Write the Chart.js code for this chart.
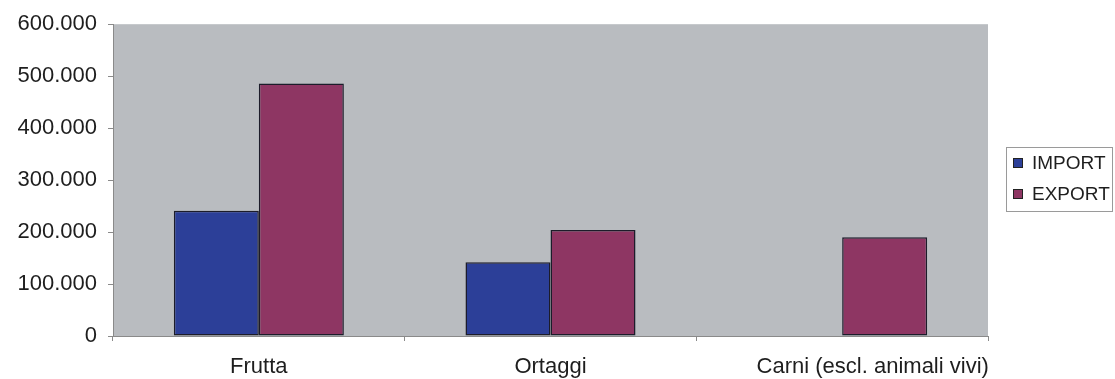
<!DOCTYPE html>
<html>
<head>
<meta charset="utf-8">
<script src="https://cdn.jsdelivr.net/npm/chart.js@4.4.1/dist/chart.umd.min.js"></script>
<style>
  html, body { margin: 0; padding: 0; background: #fff; }
  #wrap { width: 1115px; height: 379px; position: relative; }
</style>
</head>
<body>
<div id="wrap"><canvas id="trade"></canvas></div>
<script>
// categorie e valori (tonnellate)
const categorie = ['Frutta', 'Ortaggi', 'Carni (escl. animali vivi)'];
const importVal = [241000, 142000, null];
const exportVal = [486000, 204000, 190000];
const serie = ['IMPORT', 'EXPORT'];
const colori = ['#2c3f98', '#8e3663'];

const FONT = 'Liberation Sans, Arial, sans-serif';

function fmt(v) {
  return Number(v).toLocaleString('it-IT');
}

// sfondo grigio dell'area del grafico
const plotBg = {
  id: 'plotBg',
  beforeDraw(chart) {
    const { ctx, chartArea: a } = chart;
    ctx.save();
    ctx.fillStyle = '#b9bcc0';
    ctx.fillRect(a.left, a.top, a.right - a.left, a.bottom - a.top);
    ctx.restore();
  }
};

// legenda con bordo, a destra
const boxLegend = {
  id: 'boxLegend',
  afterDraw(chart) {
    const ctx = chart.ctx;
    const x = 1006, y = 147, w = 106, h = 64;
    ctx.save();
    ctx.fillStyle = '#ffffff';
    ctx.fillRect(x, y, w, h);
    ctx.strokeStyle = '#9a9a9a';
    ctx.lineWidth = 1;
    ctx.strokeRect(x + 0.5, y + 0.5, w, h);
    ctx.font = '19px ' + FONT;
    ctx.textBaseline = 'middle';
    chart.data.datasets.forEach((ds, i) => {
      const cy = y + 16 + i * 31;
      ctx.fillStyle = ds.backgroundColor;
      ctx.fillRect(x + 7, cy - 5, 10, 10);
      ctx.strokeStyle = '#222';
      ctx.strokeRect(x + 7.5, cy - 4.5, 9, 9);
      ctx.fillStyle = '#1e1e1e';
      ctx.fillText(ds.label, x + 26, cy + 1);
    });
    ctx.restore();
  }
};

new Chart(document.getElementById('trade'), {
  type: 'bar',
  data: {
    labels: categorie,
    datasets: [
      { label: serie[0], data: importVal, backgroundColor: colori[0] },
      { label: serie[1], data: exportVal, backgroundColor: colori[1] }
    ]
  },
  options: {
    responsive: true,
    maintainAspectRatio: false,
    animation: false,
    layout: { padding: { top: 22, right: 127, bottom: 0, left: 0 } },
    datasets: {
      bar: {
        borderColor: '#1c1c2a',
        borderWidth: 1.5,
        borderSkipped: false,
        categoryPercentage: 0.583,
        barPercentage: 1
      }
    },
    plugins: {
      legend: { display: false },
      tooltip: { enabled: false }
    },
    scales: {
      x: {
        offset: true,
        grid: { display: true, drawOnChartArea: false, offset: true, tickLength: 5, color: '#8a8a8a' },
        border: { display: true, color: '#8a8a8a' },
        ticks: {
          color: '#1e1e1e',
          font: { family: FONT, size: 22 },
          padding: 13,
          maxRotation: 0,
          autoSkip: false,
          // l'ultima etichetta, lunga, è spinta verso il bordo destro
          callback(value, i) {
            const lab = this.getLabelForValue(value);
            return i === categorie.length - 1 ? '\u00a0'.repeat(10) + lab : lab;
          }
        },
        afterFit(scale) { scale.height = 43; }
      },
      y: {
        min: 0,
        max: 600000,
        grid: { display: true, drawOnChartArea: false, tickLength: 5, color: '#8a8a8a' },
        border: { display: true, color: '#8a8a8a' },
        ticks: {
          stepSize: 100000,
          color: '#1e1e1e',
          font: { family: FONT, size: 22 },
          padding: 11,
          callback: v => fmt(v)
        },
        afterFit(scale) { scale.width = 113; }
      }
    }
  },
  plugins: [plotBg, boxLegend]
});
</script>
</body>
</html>
